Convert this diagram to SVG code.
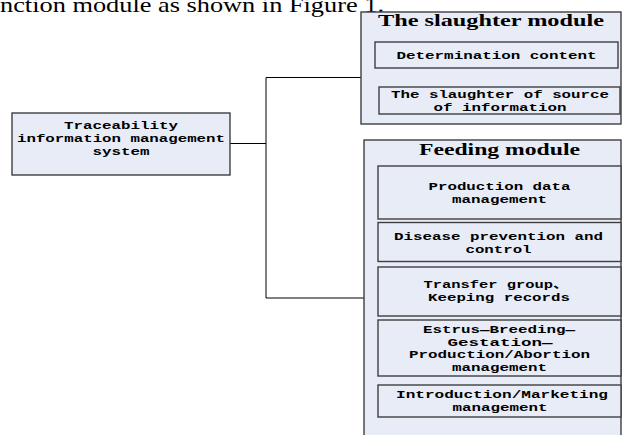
<svg xmlns="http://www.w3.org/2000/svg" width="622" height="435" viewBox="0 0 622 435">
<style>
.box{fill:#e7ecf7;stroke:#3f3f3f;stroke-width:1.4}
.t{font-family:"Liberation Mono","Noto Sans CJK SC",monospace;font-weight:bold;font-size:11px;fill:#000;text-anchor:middle}
.h{font-family:"Liberation Serif",serif;font-weight:bold;font-size:16px;fill:#000;text-anchor:middle}
.cap{font-family:"Liberation Serif",serif;font-size:21px;fill:#000}
.c{fill:none;stroke:#000;stroke-width:1}
</style>
<rect width="622" height="435" fill="#fff"/>
<text class="cap" x="0" y="12" textLength="384" lengthAdjust="spacingAndGlyphs">nction module as shown in Figure 1.</text>
<g id="connectors">
<path class="c" d="M230 143.5H266M266 77.5V298M266 77.5H361M266 298H364"/>
</g>
<g id="main">
<rect class="box" x="12" y="113" width="218" height="62"/>
<text class="t" x="121" y="129" textLength="114" lengthAdjust="spacingAndGlyphs">Traceability</text>
<text class="t" x="121" y="142" textLength="208" lengthAdjust="spacingAndGlyphs">information management</text>
<text class="t" x="121" y="155" textLength="57" lengthAdjust="spacingAndGlyphs">system</text>
</g>
<g id="slaughter">
<rect class="box" x="361" y="12" width="260" height="112"/>
<text class="h" x="491" y="26" textLength="226" lengthAdjust="spacingAndGlyphs">The slaughter module</text>
</g>
<g id="determination">
<rect class="box" x="375" y="42" width="243" height="26"/>
<text class="t" x="496.5" y="59" textLength="200" lengthAdjust="spacingAndGlyphs">Determination content</text>
</g>
<g id="source">
<rect class="box" x="379" y="87" width="241" height="27"/>
<text class="t" x="500" y="98" textLength="218" lengthAdjust="spacingAndGlyphs">The slaughter of source</text>
<text class="t" x="500" y="110.5" textLength="133" lengthAdjust="spacingAndGlyphs">of information</text>
</g>
<g id="feeding">
<rect class="box" x="364" y="140" width="257" height="300"/>
<text class="h" x="499.5" y="155" textLength="161" lengthAdjust="spacingAndGlyphs">Feeding module</text>
</g>
<g id="production">
<rect class="box" x="378" y="166" width="243" height="53"/>
<text class="t" x="499.5" y="190" textLength="142" lengthAdjust="spacingAndGlyphs">Production data</text>
<text class="t" x="499.5" y="202.5" textLength="95" lengthAdjust="spacingAndGlyphs">management</text>
</g>
<g id="disease">
<rect class="box" x="378" y="222.5" width="243" height="39"/>
<text class="t" x="498.5" y="240" textLength="209" lengthAdjust="spacingAndGlyphs">Disease prevention and</text>
<text class="t" x="498.5" y="253" textLength="66" lengthAdjust="spacingAndGlyphs">control</text>
</g>
<g id="transfer">
<rect class="box" x="378" y="267" width="243" height="49"/>
<text class="t" x="496" y="288" textLength="145" lengthAdjust="spacingAndGlyphs">Transfer group、</text>
<text class="t" x="499" y="300.5" textLength="142" lengthAdjust="spacingAndGlyphs">Keeping records</text>
</g>
<g id="estrus">
<rect class="box" x="378" y="320" width="243" height="56"/>
<text class="t" x="499" y="333" textLength="152" lengthAdjust="spacingAndGlyphs">Estrus—Breeding—</text>
<text class="t" x="500" y="345.5" textLength="105" lengthAdjust="spacingAndGlyphs">Gestation—</text>
<text class="t" x="499.5" y="358" textLength="181" lengthAdjust="spacingAndGlyphs">Production/Abortion</text>
<text class="t" x="499.5" y="370.5" textLength="95" lengthAdjust="spacingAndGlyphs">management</text>
</g>
<g id="intro">
<rect class="box" x="378" y="385" width="243" height="32"/>
<text class="t" x="502" y="398" textLength="212" lengthAdjust="spacingAndGlyphs">Introduction/Marketing</text>
<text class="t" x="500" y="410.5" textLength="95" lengthAdjust="spacingAndGlyphs">management</text>
</g>
</svg>
